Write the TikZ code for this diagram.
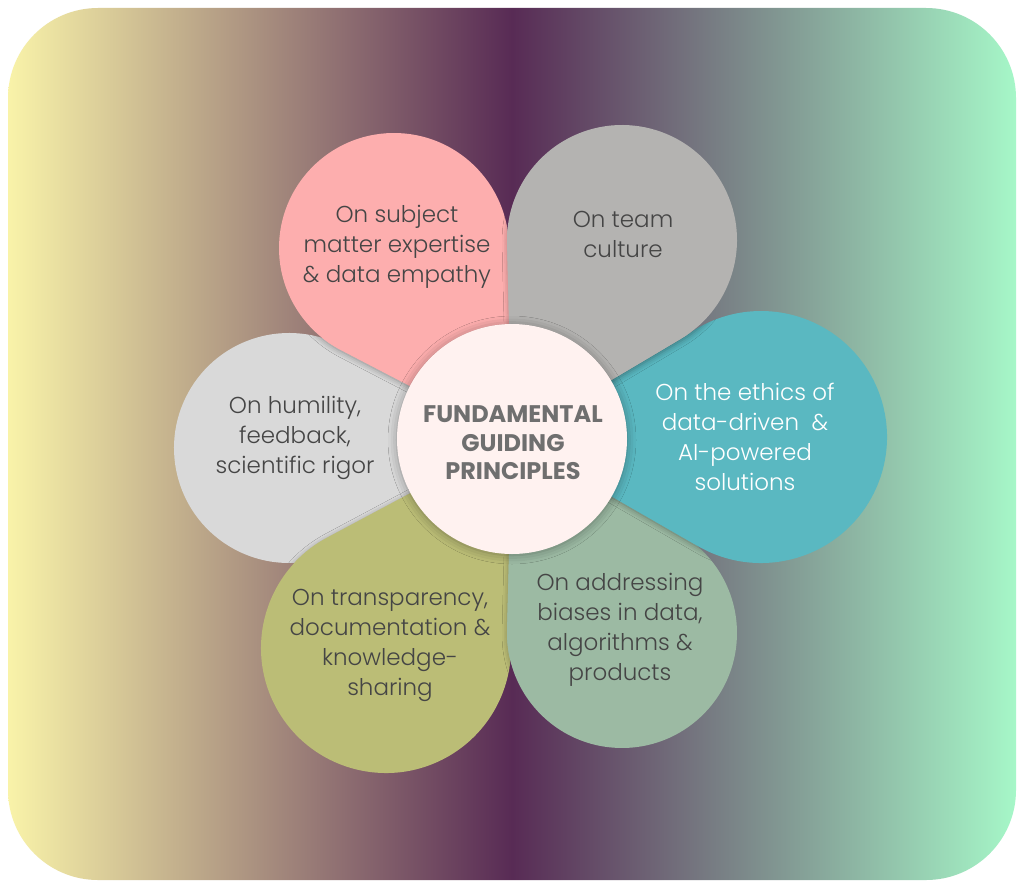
\documentclass[tikz,border=0pt]{standalone}
\usepackage{fontspec}
\setmainfont{Poppins}[UprightFont=* Light, BoldFont=* Bold]
\usetikzlibrary{calc,shadows.blur}

\definecolor{bgL}{HTML}{F9F3A9}
\definecolor{bgM}{HTML}{582B55}
\definecolor{bgR}{HTML}{A6F7C8}
\definecolor{cpink}{HTML}{FDAEAE}
\definecolor{cgray}{HTML}{B4B3B1}
\definecolor{cteal}{HTML}{5AB8C1}
\definecolor{csage}{HTML}{9CBAA3}
\definecolor{colive}{HTML}{BBBD76}
\definecolor{clight}{HTML}{D9D9D9}
\definecolor{ccenter}{HTML}{FFF2F0}
\definecolor{txt}{HTML}{454545}
\definecolor{ttl}{HTML}{6F6F6F}

% teardrop path segment: #1 circle centre, #2 radius (pt); tip at (C)
\newcommand{\tdseg}[2]{%
  let \p1=($(C)-(#1)$), \n1={atan2(\y1,\x1)},
      \n2={acos(#2/veclen(\x1,\y1))} in
    (C) -- ($(#1)+({\n1+\n2}:#2pt)$)
    arc[start angle=\n1+\n2, delta angle=360-2*\n2, radius=#2pt] -- cycle }

\tikzset{
  petalshadow/.style={fill=#1, blur shadow={shadow xshift=1pt, shadow yshift=-1.5pt,
      shadow blur radius=6pt, shadow opacity=38}},
  lbl/.style={align=center, text=txt, inner sep=0pt,
      font=\fontsize{23pt}{30pt}\selectfont},
  ttlstyle/.style={align=center, text=ttl, inner sep=0pt,
      font=\fontsize{24pt}{28.5pt}\selectfont\bfseries},
}

\begin{document}
\begin{tikzpicture}[x=1pt,y=-1pt]
\useasboundingbox (0,0) rectangle (1024,888);
\fill[white] (0,0) rectangle (1024,888);
\shade[left color=bgL, right color=bgR, middle color=bgM, rounded corners=90pt]
  (8,8) rectangle (1016,880);

\coordinate (C) at (512,439);
\coordinate (P1) at (394,248);
\coordinate (P2) at (622,240);
\coordinate (P3) at (761,437);
\coordinate (P4) at (622,633);
\coordinate (P5) at (386,648);
\coordinate (P6) at (289,448);

% humility (bottom-most)
\fill[clight] \tdseg{P6}{115};
% olive
\begin{scope}
  \clip \tdseg{P6}{115};
  \path[petalshadow=colive] \tdseg{P5}{125};
\end{scope}
\fill[colive] \tdseg{P5}{125};
% sage
\begin{scope}
  \clip \tdseg{P6}{115} \tdseg{P5}{125};
  \path[petalshadow=csage] \tdseg{P4}{115};
\end{scope}
\fill[csage] \tdseg{P4}{115};
% teal
\begin{scope}
  \clip \tdseg{P6}{115} \tdseg{P5}{125} \tdseg{P4}{115};
  \path[petalshadow=cteal] \tdseg{P3}{126};
\end{scope}
\fill[cteal] \tdseg{P3}{126};
% pink
\begin{scope}
  \clip \tdseg{P6}{115} \tdseg{P5}{125} \tdseg{P4}{115} \tdseg{P3}{126};
  \path[petalshadow=cpink] \tdseg{P1}{115};
\end{scope}
\fill[cpink] \tdseg{P1}{115};
% gray (top-most petal)
\begin{scope}
  \clip \tdseg{P6}{115} \tdseg{P5}{125} \tdseg{P4}{115} \tdseg{P3}{126} \tdseg{P1}{115};
  \path[petalshadow=cgray] \tdseg{P2}{115};
\end{scope}
\fill[cgray] \tdseg{P2}{115};

\node[circle, minimum size=230pt, inner sep=0pt, fill=ccenter,
  blur shadow={shadow xshift=0pt, shadow yshift=-1pt, shadow blur radius=9pt,
  shadow opacity=35}] (ctr) at (C) {};

\node[ttlstyle] (title) at (513,443) {FUNDAMENTAL\\GUIDING\\PRINCIPLES};

\node[lbl] (t1) at (397,247) {On subject\\matter expertise\\\& data empathy};
\node[lbl] (t2) at (623,234) {On team\\culture};
\node[lbl, text=white] (t3) at (745,437) {On the ethics of\\data-driven \ \&\\AI-powered\\solutions};
\node[lbl] (t4) at (620,630) {On addressing\\biases in data,\\algorithms \&\\products};
\node[lbl] (t5) at (390,645) {On transparency,\\documentation \&\\knowledge-\\sharing};
\node[lbl] (t6) at (295,438) {On humility,\\feedback,\\scientific rigor};
\end{tikzpicture}
\end{document}
